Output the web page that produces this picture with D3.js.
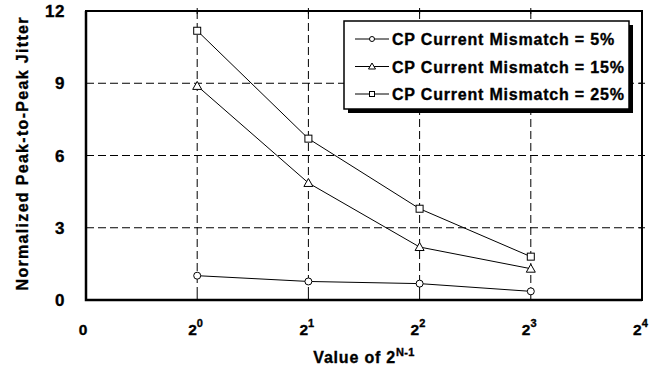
<!DOCTYPE html>
<html>
<head>
<meta charset="utf-8">
<script src="https://cdn.jsdelivr.net/npm/d3@7"></script>
<style>
  body { margin: 0; background: #fff; }
  svg { display: block; font-family: "Liberation Sans", Arial, sans-serif; font-weight: bold; }
  svg text { stroke: #000; stroke-width: 0.35px; }
</style>
</head>
<body>
<div id="chart"></div>
<script>
// data
var xIndex = [1, 2, 3, 4];          // 2^0 .. 2^3 sit at positions 1..4 (0 and 2^4 at the ends)
var xTickExp = ["", "0", "1", "2", "3", "4"];
var yTicks = [0, 3, 6, 9, 12];
var mismatch5 = [1.01, 0.77, 0.68, 0.36];
var mismatch15 = [8.89, 4.86, 2.2, 1.3];
var mismatch25 = [11.18, 6.7, 3.79, 1.8];
var seriesNames = ["CP Current Mismatch = 5%", "CP Current Mismatch = 15%", "CP Current Mismatch = 25%"];
var seriesMarkers = ["circle", "triangle", "square"];

var svgWidth = 652, svgHeight = 374;
var margin = { top: 11, right: 10, bottom: 74, left: 86 };
var width = svgWidth - margin.left - margin.right;
var height = svgHeight - margin.top - margin.bottom;

var svg = d3.select("#chart").append("svg")
  .attr("width", svgWidth)
  .attr("height", svgHeight);

var chartGroup = svg.append("g")
  .attr("transform", `translate(${margin.left}, ${margin.top})`);

var xScale = d3.scaleLinear().domain([0, 5]).range([0, width]);
var yScale = d3.scaleLinear().domain([0, 12]).range([height, 0]);

// dashed grid
chartGroup.selectAll(".hgrid")
  .data(yTicks.filter(d => d > 0 && d < 12))
  .enter().append("line")
  .attr("x1", 0).attr("x2", width)
  .attr("y1", d => yScale(d)).attr("y2", d => yScale(d))
  .attr("stroke", "#000").attr("stroke-width", 1)
  .attr("stroke-dasharray", "8,4");

chartGroup.selectAll(".vgrid")
  .data([1, 2, 3, 4])
  .enter().append("line")
  .attr("x1", d => xScale(d)).attr("x2", d => xScale(d))
  .attr("y1", 0).attr("y2", height)
  .attr("stroke", "#000").attr("stroke-width", 1)
  .attr("stroke-dasharray", "8,4");

// small cross ticks on the frame
[1, 2, 3, 4].forEach(function (d) {
  chartGroup.append("line")
    .attr("x1", xScale(d)).attr("x2", xScale(d))
    .attr("y1", -3).attr("y2", 3).attr("stroke", "#000");
  chartGroup.append("line")
    .attr("x1", xScale(d)).attr("x2", xScale(d))
    .attr("y1", height - 5).attr("y2", height).attr("stroke", "#000");
});
[3, 6, 9].forEach(function (d) {
  chartGroup.append("line")
    .attr("x1", width - 3).attr("x2", width + 3)
    .attr("y1", yScale(d)).attr("y2", yScale(d)).attr("stroke", "#000");
});

// frame
chartGroup.append("rect")
  .attr("x", 0).attr("y", 0)
  .attr("width", width).attr("height", height)
  .attr("fill", "none").attr("stroke", "#000").attr("stroke-width", 2);
chartGroup.append("path")
  .attr("d", `M0,0V${height}H${width}`)
  .attr("fill", "none").attr("stroke", "#000").attr("stroke-width", 2.5);

// y tick labels
chartGroup.selectAll(".ylab")
  .data(yTicks)
  .enter().append("text")
  .attr("x", -21)
  .attr("y", d => yScale(d) + 6)
  .attr("text-anchor", "end")
  .attr("font-size", 17)
  .attr("letter-spacing", 0.5)
  .text(d => d);

// x tick labels
var xLab = chartGroup.selectAll(".xlab")
  .data(xTickExp)
  .enter().append("text")
  .attr("x", (d, i) => i === 0 ? xScale(i) - 3 : xScale(i) - 9)
  .attr("y", height + 35)
  .attr("font-size", 15.5)
  .attr("text-anchor", (d, i) => i === 0 ? "middle" : "start");
xLab.append("tspan")
  .text((d, i) => i === 0 ? "0" : "2");
xLab.append("tspan")
  .attr("dy", -8)
  .attr("font-size", 11)
  .text(d => d);

// axis titles
var xTitle = chartGroup.append("text")
  .attr("x", width / 2)
  .attr("y", height + 63)
  .attr("text-anchor", "middle")
  .attr("font-size", 16)
  .attr("letter-spacing", 0.8);
xTitle.append("tspan").text("Value of 2");
xTitle.append("tspan").attr("dy", -7).attr("font-size", 11).attr("letter-spacing", 0.3).text("N-1");

svg.append("text")
  .attr("transform", `translate(28, 154) rotate(-90)`)
  .attr("text-anchor", "middle")
  .attr("font-size", 16)
  .attr("textLength", 273)
  .attr("lengthAdjust", "spacing")
  .text("Normalized Peak-to-Peak Jitter");

// series
var allSeries = [mismatch5, mismatch15, mismatch25];
var line = d3.line()
  .x((d, i) => xScale(xIndex[i]))
  .y(d => yScale(d));

function drawMarker(g, type, x, y) {
  if (type === "circle") {
    g.append("circle").attr("cx", x).attr("cy", y).attr("r", 3.5)
      .attr("fill", "#fff").attr("stroke", "#000");
  } else if (type === "triangle") {
    g.append("path")
      .attr("d", `M${x},${y - 4.5}L${x + 4.5},${y + 3.5}L${x - 4.5},${y + 3.5}Z`)
      .attr("fill", "#fff").attr("stroke", "#000");
  } else {
    g.append("rect").attr("x", x - 3.5).attr("y", y - 3.5)
      .attr("width", 7).attr("height", 7)
      .attr("fill", "#fff").attr("stroke", "#000");
  }
}

allSeries.forEach(function (values, s) {
  chartGroup.append("path")
    .datum(values)
    .attr("d", line)
    .attr("fill", "none")
    .attr("stroke", "#000")
    .attr("stroke-width", 1);
  values.forEach(function (v, i) {
    drawMarker(chartGroup, seriesMarkers[s], xScale(xIndex[i]), yScale(v));
  });
});

// legend
var legend = svg.append("g").attr("transform", "translate(344, 21)");
legend.append("rect")
  .attr("x", 4).attr("y", 4).attr("width", 285).attr("height", 88)
  .attr("fill", "#000");
legend.append("rect")
  .attr("x", 0).attr("y", 0).attr("width", 285).attr("height", 88)
  .attr("fill", "#fff").attr("stroke", "#000").attr("stroke-width", 1.5);

seriesNames.forEach(function (name, s) {
  var ly = 18 + s * 27.5;
  legend.append("line")
    .attr("x1", 11).attr("x2", 45)
    .attr("y1", ly).attr("y2", ly)
    .attr("stroke", "#000");
  var m = legend.append("g");
  if (seriesMarkers[s] === "circle") {
    m.append("circle").attr("cx", 28).attr("cy", ly).attr("r", 2.5)
      .attr("fill", "#fff").attr("stroke", "#000");
  } else if (seriesMarkers[s] === "triangle") {
    m.append("path").attr("d", `M28,${ly - 3.5}L31.5,${ly + 2.5}L24.5,${ly + 2.5}Z`)
      .attr("fill", "#fff").attr("stroke", "#000");
  } else {
    m.append("rect").attr("x", 25.5).attr("y", ly - 2.5)
      .attr("width", 5).attr("height", 5)
      .attr("fill", "#fff").attr("stroke", "#000");
  }
  legend.append("text")
    .attr("x", 48)
    .attr("y", ly + 6)
    .attr("font-size", 16)
    .attr("letter-spacing", 0.8)
    .text(name);
});
</script>
</body>
</html>
